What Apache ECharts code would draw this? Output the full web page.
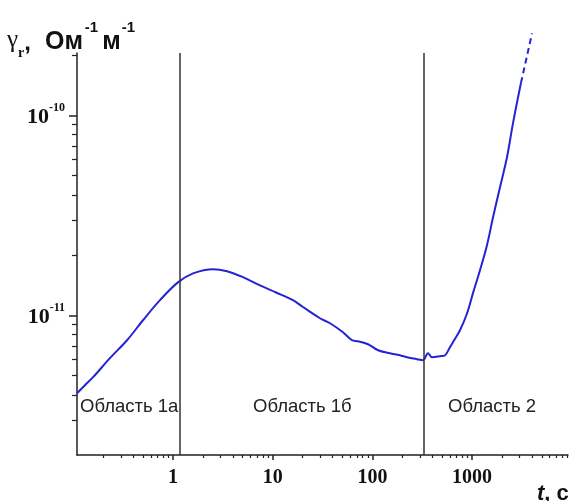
<!DOCTYPE html>
<html>
<head>
<meta charset="utf-8">
<script src="https://cdn.jsdelivr.net/npm/echarts@6/dist/echarts.min.js"></script>
<style>
  html, body { margin: 0; padding: 0; background: #fff; }
  #chart { width: 579px; height: 501px; }
</style>
</head>
<body>
<div id="chart"></div>
<script>
// time, s (solid part of the curve)
var tSolid = [0.109, 0.131, 0.158, 0.233, 0.346, 0.5, 0.741, 1.12, 1.59, 2.52, 3.48, 5.04, 7.46,
    10.8, 16.0, 20.1, 29.8, 37.6, 50.7, 62.4, 71.7, 90.4, 114, 150, 189, 222, 280, 322, 361,
    396, 476, 535, 600, 643, 756, 889, 1021, 1200, 1410, 1622, 1905, 2239, 2570, 3090];
// gamma_r, Ohm^-1 m^-1
var gammaSolid = [4.07e-12, 4.47e-12, 4.90e-12, 6.10e-12, 7.50e-12, 9.44e-12, 1.19e-11, 1.46e-11,
    1.62e-11, 1.70e-11, 1.66e-11, 1.55e-11, 1.41e-11, 1.30e-11, 1.19e-11, 1.10e-11, 9.66e-12,
    9.12e-12, 8.22e-12, 7.50e-12, 7.41e-12, 7.16e-12, 6.68e-12, 6.46e-12, 6.31e-12, 6.17e-12,
    6.03e-12, 5.96e-12, 6.46e-12, 6.17e-12, 6.24e-12, 6.31e-12, 6.92e-12, 7.33e-12, 8.41e-12,
    1.02e-11, 1.29e-11, 1.68e-11, 2.24e-11, 3.09e-11, 4.37e-11, 6.17e-11, 9.12e-11, 1.45e-10];
// extrapolated (dashed) part
var tDash = [3090, 3990];
var gammaDash = [1.45e-10, 2.57e-10];
// region borders, s
var borders = [1.17, 324];
var regionNames = ['Область 1а', 'Область 1б', 'Область 2'];

var xMin = 0.109, xMax = 9160;
var yMin = 2e-12, yMax = 2.05e-10;

function lg(v) { return Math.log10(v); }
function pairs(xs, ys) { return xs.map(function (x, i) { return [x, ys[i]]; }); }
function minorTicks(a, b) {
    var out = [];
    for (var e = Math.floor(lg(a)); e <= Math.ceil(lg(b)); e++) {
        for (var k = 2; k <= 9; k++) {
            var v = lg(k) + e;
            if (v > lg(a) && v < lg(b)) out.push(v);
        }
    }
    return out;
}
function isDecade(v) { var l = lg(v); return Math.abs(l - Math.round(l)) < 1e-6; }

var axisColor = '#222';
var curveColor = '#2424d4';
var serif = 'Liberation Serif';
var sans = 'Liberation Sans';

var myChart = echarts.init(document.getElementById('chart'));
var option = {
    animation: false,
    grid: { left: 77, right: 11, top: 53, bottom: 46, outerBoundsMode: 'none' },
    xAxis: [{
        type: 'log', logBase: 10, min: xMin, max: xMax, position: 'bottom',
        axisLine: { onZero: false, lineStyle: { color: axisColor, width: 1.5 } },
        axisTick: { show: false },
        splitLine: { show: false },
        axisLabel: {
            showMinLabel: false, showMaxLabel: false, margin: 13,
            fontFamily: serif, fontWeight: 'bold', fontSize: 20, color: '#111',
            formatter: function (v) { return isDecade(v) ? String(Math.round(v)) : ''; }
        }
    }, {
        type: 'value', min: lg(xMin), max: lg(xMax), position: 'bottom',
        axisLine: { show: false, onZero: false }, axisLabel: { show: false }, splitLine: { show: false },
        axisTick: { customValues: [0, 1, 2, 3], length: 5, lineStyle: { color: axisColor, width: 1.5 } }
    }, {
        type: 'value', min: lg(xMin), max: lg(xMax), position: 'bottom',
        axisLine: { show: false, onZero: false }, axisLabel: { show: false }, splitLine: { show: false },
        axisTick: { customValues: minorTicks(xMin, xMax), length: 3, lineStyle: { color: axisColor, width: 1.2 } }
    }],
    yAxis: [{
        type: 'log', logBase: 10, min: yMin, max: yMax, position: 'left',
        axisLine: { onZero: false, lineStyle: { color: axisColor, width: 1.5 } },
        axisTick: { show: false },
        splitLine: { show: false },
        axisLabel: {
            showMinLabel: false, showMaxLabel: false, margin: 12,
            formatter: function (v) {
                if (!isDecade(v)) return '';
                return '{b|10}{s|' + Math.round(lg(v)) + '}';
            },
            rich: {
                b: { fontFamily: serif, fontWeight: 'bold', fontSize: 22, color: '#111', padding: [4, 0, 0, 0] },
                s: { fontFamily: serif, fontWeight: 'bold', fontSize: 12, color: '#111', verticalAlign: 'bottom', padding: [0, 0, 14, 0] }
            }
        }
    }, {
        type: 'value', min: lg(yMin), max: lg(yMax), position: 'left',
        axisLine: { show: false, onZero: false }, axisLabel: { show: false }, splitLine: { show: false },
        axisTick: { customValues: [-11, -10], length: 8, lineStyle: { color: axisColor, width: 1.5 } }
    }, {
        type: 'value', min: lg(yMin), max: lg(yMax), position: 'left',
        axisLine: { show: false, onZero: false }, axisLabel: { show: false }, splitLine: { show: false },
        axisTick: { customValues: minorTicks(yMin, yMax), length: 5, lineStyle: { color: axisColor, width: 1.2 } }
    }],
    series: [{
        type: 'line',
        xAxisIndex: 0, yAxisIndex: 0,
        data: pairs(tSolid, gammaSolid),
        showSymbol: false, symbol: 'none', smooth: 0.35,
        lineStyle: { color: curveColor, width: 2 },
        markLine: {
            silent: true, symbol: 'none', label: { show: false },
            lineStyle: { color: '#333', width: 1.5, type: 'solid' },
            data: borders.map(function (b) { return { xAxis: b }; })
        }
    }, {
        type: 'line',
        xAxisIndex: 0, yAxisIndex: 0,
        data: pairs(tDash, gammaDash),
        showSymbol: false, symbol: 'none', clip: false,
        lineStyle: { color: curveColor, width: 2, type: [6, 4] }
    }],
    graphic: [{
        type: 'text', left: 7, top: 20,
        style: {
            text: '{g|γ}{r|r}{t|,}{t2|Ом}{p|-1}{t3|м}{p|-1}',
            rich: {
                g: { fontFamily: serif, fontSize: 25, fill: '#111', verticalAlign: 'bottom', padding: [0, 0, 2, 0] },
                r: { fontFamily: serif, fontWeight: 'bold', fontSize: 14, fill: '#111', verticalAlign: 'bottom', padding: [0, 0, -5, 0] },
                t: { fontFamily: sans, fontWeight: 'bold', fontSize: 24, fill: '#111', verticalAlign: 'bottom', padding: [0, 14, 0, 0] },
                t2: { fontFamily: sans, fontWeight: 'bold', fontSize: 25, fill: '#111', verticalAlign: 'bottom', padding: [0, 2, 0, 0] },
                t3: { fontFamily: sans, fontWeight: 'bold', fontSize: 25, fill: '#111', verticalAlign: 'bottom', padding: [0, 1, 0, 2] },
                p: { fontFamily: sans, fontWeight: 'bold', fontSize: 15, fill: '#111', verticalAlign: 'bottom', padding: [0, 2, 20, 0] }
            }
        }
    }, {
        type: 'text', left: 537, top: 483,
        style: {
            text: '{i|t}{n|, с}',
            rich: {
                i: { fontFamily: sans, fontWeight: 'bold', fontStyle: 'italic', fontSize: 22, fill: '#111' },
                n: { fontFamily: sans, fontWeight: 'bold', fontSize: 22, fill: '#111' }
            }
        }
    }, {
        type: 'text', left: 80, top: 397,
        style: { text: regionNames[0], font: '18.5px "Liberation Sans"', fill: '#222' }
    }, {
        type: 'text', left: 253, top: 397,
        style: { text: regionNames[1], font: '18.5px "Liberation Sans"', fill: '#222' }
    }, {
        type: 'text', left: 448, top: 397,
        style: { text: regionNames[2], font: '18.5px "Liberation Sans"', fill: '#222' }
    }]
};
myChart.setOption(option);
</script>
</body>
</html>
